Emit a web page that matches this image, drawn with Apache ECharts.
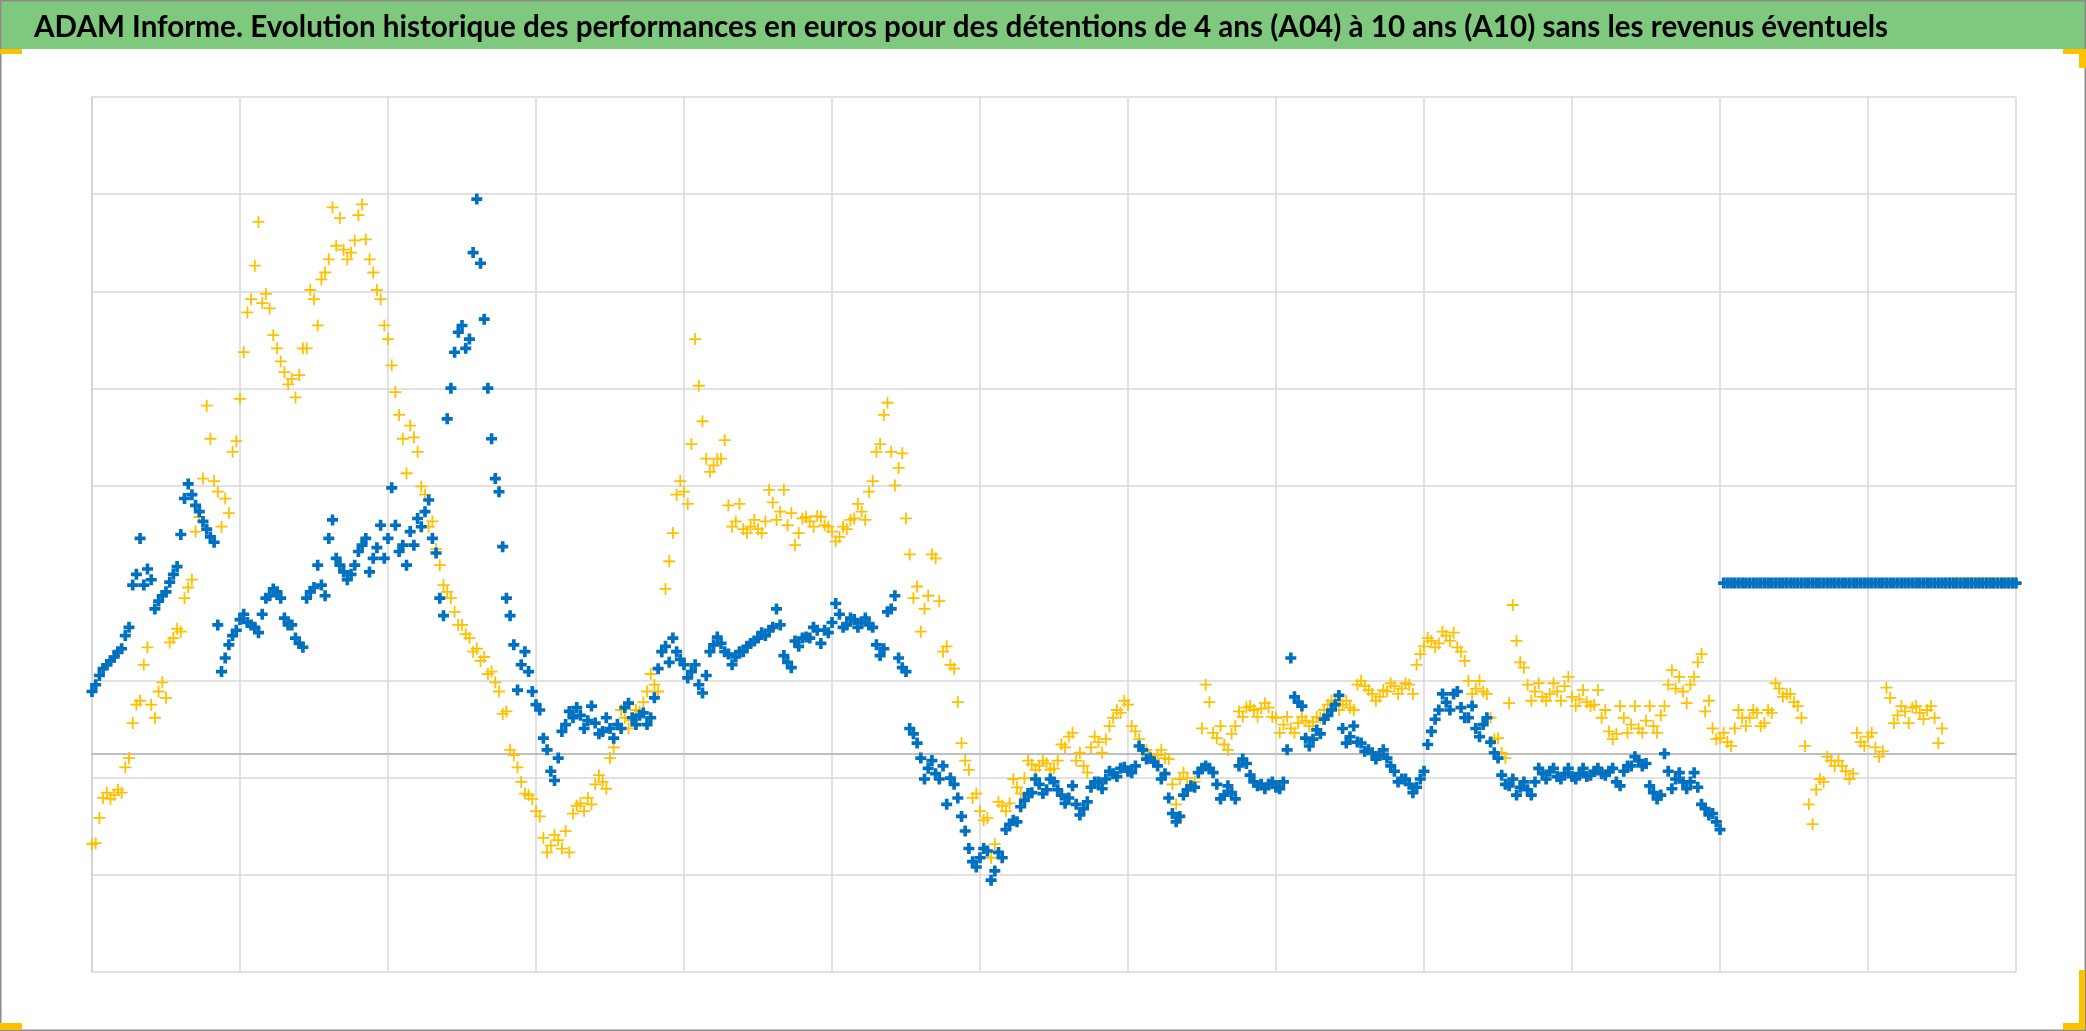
<!DOCTYPE html>
<html>
<head>
<meta charset="utf-8">
<script src="https://cdn.jsdelivr.net/npm/echarts/dist/echarts.min.js"></script>
<style>
html,body{margin:0;padding:0;background:#ffffff;}
#chart{width:2086px;height:1031px;}
</style>
</head>
<body>
<div id="chart"></div>
<script>
// ---------- DATA ----------
const titleText = 'ADAM Informe. Evolution historique des performances en euros pour des détentions de 4 ans (A04) à 10 ans (A10) sans les revenus éventuels';
const seriesNames = ['A04', 'A10'];
// observation time axis (equally spaced observations; "Mid" arrays are the observations half a step later)
const timeStart = 0;
const timeStep = 0.05;
const xRange = [0, 13, 1];          // min, max, interval
const yRange = [-45, 135, 20];      // min, max, interval (ticks counted from min)

// A04 (yellow) performance values, %
const perfA04 = [
-18.7,-13.3,-8.1,-8.6,-8.1,-1.0,10.0,18.2,10.0,12.7,
11.4,23.7,25.0,34.1,45.6,56.5,64.7,53.8,52.4,62.0,
72.9,90.7,100.3,92.6,91.5,83.3,78.4,77.0,77.8,83.3,
93.4,97.5,101.6,104.4,103.6,103.0,110.7,105.7,98.9,93.4,
85.2,74.3,64.7,67.4,62.0,53.2,47.7,38.7,33.2,29.1,
26.4,23.7,21.5,19.8,16.8,12.7,8.6,-0.4,-5.9,-8.6,
-11.9,-17.4,-19.0,-17.9,-16.0,-12.4,-10.3,-9.2,-6.4,-5.9,
-1.0,5.9,7.3,6.7,8.6,12.7,14.1,20.9,39.5,53.2,
53.8,63.6,75.6,60.6,59.2,60.6,51.0,47.7,46.1,46.6,
46.1,47.7,51.6,49.7,46.9,42.8,48.3,47.7,48.8,46.9,
45.6,44.5,46.1,48.3,49.7,53.8,62.0,69.6,62.0,58.7,
48.3,31.9,25.0,32.4,40.1,20.9,18.2,10.5,-1.5,-9.2,
-11.9,-13.3,-18.7,-10.8,-10.3,-7.0,-5.1,-2.3,-2.6,-2.1,
-3.1,1.8,3.4,-1.5,-2.6,1.2,2.3,2.9,7.3,8.3,
10.0,4.5,0.4,-0.4,-0.4,-1.0,-6.4,-5.3,-5.1,-5.9,
5.1,10.5,3.1,1.8,4.0,8.6,9.4,8.9,9.2,9.4,
7.3,5.9,5.1,6.2,6.7,6.4,7.3,10.0,10.5,10.0,
9.4,14.1,13.8,12.2,11.6,12.7,13.8,13.3,14.1,18.2,
22.0,23.1,22.6,24.2,24.8,20.9,14.9,13.3,12.7,7.3,
3.1,-1.0,30.5,18.7,14.1,12.7,11.6,12.2,12.7,13.8,
11.6,11.1,10.5,10.0,7.3,4.5,4.0,7.3,5.9,5.1,
6.7,5.6,7.8,14.1,13.3,12.7,14.1,18.7,8.6,5.1,
3.1,2.3,5.1,7.3,7.3,8.3,6.2,8.3,13.3,12.2,
10.5,7.3,-10.5,-7.5,-5.9,-1.5,-1.5,-3.7,-4.2,2.3,
3.4,1.2,0.4,11.4,7.8,8.6,9.4,8.3,8.9,7.3,
5.1,
35,35,35,35,35,35,35,35,35,35
];
const perfA04Mid = [
-18.5,-9.2,-9.4,-7.5,-2.9,6.2,10.8,21.8,7.3,14.6,
22.8,25.6,31.9,35.7,48.6,71.5,56.0,46.6,49.4,64.2,
82.5,93.4,109.3,94.5,86.0,80.6,75.9,73.2,83.3,95.3,
88.0,98.9,112.3,110.1,101.6,105.5,112.9,101.6,95.3,88.0,
79.8,69.6,57.6,65.0,54.9,46.6,42.0,34.6,31.9,26.4,
24.5,20.9,19.0,16.3,14.6,8.1,0.7,-2.9,-8.3,-9.4,
-13.0,-20.4,-16.8,-19.6,-20.4,-10.8,-11.9,-10.5,-4.5,-7.3,
1.2,8.9,5.1,8.9,10.5,16.3,12.7,33.8,45.3,56.0,
51.3,85.2,68.3,57.9,60.6,64.4,46.6,51.3,45.3,48.0,
45.3,54.2,48.0,54.2,49.4,45.3,48.6,46.6,48.6,46.6,
43.6,46.6,48.0,51.3,48.0,56.0,63.6,72.1,55.1,61.7,
40.9,34.3,29.7,40.9,31.3,22.0,17.4,2.1,-3.4,-8.3,
-13.8,-21.5,-10.0,-11.9,-5.3,-8.3,-1.5,-3.4,-1.5,-3.4,
-1.5,1.2,4.2,0.1,-4.0,3.4,0.1,5.6,8.9,10.8,
5.6,2.9,0.7,-1.2,0.7,-1.2,-10.5,-4.0,-6.7,-4.0,
14.1,4.2,5.6,0.7,5.6,7.5,9.7,7.5,10.3,7.5,
4.2,7.5,4.2,7.5,5.6,7.5,8.9,10.8,8.9,10.8,
8.9,14.9,13.0,10.8,13.0,14.4,12.2,14.4,12.2,20.4,
23.7,21.8,25.0,23.1,21.8,19.0,12.2,14.9,12.2,2.9,
0.1,10.3,23.1,17.6,10.8,14.4,10.8,14.4,10.8,15.7,
9.7,13.0,9.7,13.0,8.9,2.9,9.7,4.2,9.7,4.2,
9.7,4.2,9.7,17.1,15.7,10.3,15.7,20.4,10.8,2.9,
4.2,1.5,8.9,5.6,8.9,5.6,8.9,14.4,11.6,12.2,
9.7,1.5,-14.6,-5.3,-0.7,-2.6,-2.6,-5.3,4.2,1.5,
4.2,-0.7,13.5,6.2,9.7,6.2,9.7,7.0,9.7,2.1,
35,35,35,35,35,35,35,35,35,35
];

// A10 (blue) performance values, %
const perfA10 = [
12.7,16.0,18.2,19.8,21.5,25.9,36.8,34.6,35.7,31.3,
33.2,36.8,45.0,55.4,51.0,47.7,44.5,26.4,19.6,24.2,
27.5,26.9,25.9,28.6,32.4,33.2,27.8,26.4,22.6,31.9,
34.1,34.6,44.2,40.1,37.3,36.8,41.5,44.2,40.1,46.9,
44.2,46.9,42.8,45.6,48.3,49.7,44.2,31.9,68.8,82.5,
88.0,85.2,114.0,89.3,64.7,53.8,31.9,22.3,18.2,16.8,
10.0,3.1,-3.7,-1.0,5.9,7.3,7.8,6.7,6.2,4.5,
5.1,5.9,9.4,7.3,7.8,5.9,11.4,20.9,18.7,20.9,
18.2,16.8,14.1,16.0,22.3,22.6,20.4,19.8,20.9,22.6,
23.7,24.2,25.9,26.4,18.7,23.1,23.7,23.7,25.3,25.3,
26.9,28.6,26.4,27.5,26.9,26.4,22.3,21.5,29.7,19.6,
16.8,4.0,-1.0,-3.1,-4.2,-2.6,-5.1,-9.2,-16.0,-22.3,
-21.5,-20.1,-24.2,-21.5,-14.6,-14.1,-9.7,-8.1,-6.4,-7.5,
-5.9,-8.6,-9.2,-10.5,-11.4,-7.0,-5.9,-5.3,-4.2,-3.1,
-3.7,-2.6,0.7,-1.0,-2.6,-4.2,-12.4,-13.0,-7.5,-7.0,
-3.1,-3.1,-6.4,-8.6,-8.1,-2.6,-2.1,-5.9,-6.4,-6.4,
-7.0,-5.9,19.6,10.5,3.1,2.9,4.0,7.8,10.0,5.1,
3.4,2.3,0.4,0.1,-0.4,-1.0,-3.7,-5.3,-6.4,-7.0,
-3.7,4.5,8.9,10.5,12.2,9.4,7.3,5.1,5.9,2.3,
-1.0,-6.4,-5.3,-7.0,-7.5,-5.9,-4.2,-3.7,-4.8,-4.2,
-4.8,-4.2,-4.8,-3.7,-4.2,-3.7,-5.9,-3.7,-2.6,-1.5,
-2.1,-8.1,-8.6,-3.7,-5.3,-5.9,-5.9,-7.0,-11.4,-12.4,
-15.7,
35,35,35,35,35,35,35,35,35,35,
35,35,35,35,35,35,35,35,35,35,
35,35,35,35,35,35,35,35,35,35,
35,35,35,35,35,35,35,35,35,35
];
const perfA10Mid = [
14.1,17.4,19.0,20.9,24.2,34.6,44.2,37.9,29.7,32.4,
35.2,38.4,52.4,53.2,49.7,46.1,43.4,16.8,22.3,25.3,
28.6,26.4,24.8,31.9,33.8,31.9,26.4,23.7,21.8,33.2,
38.7,32.4,48.0,38.7,35.7,38.7,42.8,37.3,42.3,40.1,
54.6,41.5,38.7,42.8,46.6,52.1,41.2,28.3,75.1,86.6,
83.3,103.0,100.8,75.1,56.5,42.5,28.3,13.0,20.9,12.7,
8.9,0.7,-5.6,4.5,8.6,9.4,5.1,9.7,4.0,7.3,
3.1,5.1,10.3,5.9,8.3,7.3,17.4,22.0,23.7,19.3,
15.5,18.2,12.4,20.9,23.9,20.9,18.2,20.9,22.0,23.1,
24.8,25.3,29.7,20.1,17.6,22.0,23.9,25.9,22.6,24.8,
30.8,25.9,27.8,25.9,27.8,25.9,20.1,29.1,32.4,17.6,
5.1,2.1,-5.3,-1.5,-5.3,-10.5,-6.4,-13.0,-19.6,-23.4,
-19.6,-26.1,-20.4,-15.7,-13.8,-11.0,-8.3,-5.3,-8.3,-5.3,
-7.5,-10.3,-6.7,-12.7,-10.0,-5.9,-7.3,-3.7,-4.8,-2.9,
-4.0,1.5,-1.2,-1.8,-5.3,-9.2,-14.1,-8.6,-6.7,-4.0,
-2.6,-4.0,-9.4,-6.7,-9.4,-1.2,-4.5,-6.7,-7.3,-5.9,
-7.3,0.7,11.6,9.7,1.5,4.8,7.0,8.9,11.9,2.1,
5.6,2.1,0.7,-1.2,0.7,-2.6,-5.9,-5.3,-8.1,-5.3,
1.8,7.0,12.2,8.9,12.7,7.3,9.7,3.4,7.3,0.1,
-4.5,-6.7,-8.6,-5.9,-8.6,-3.1,-5.3,-3.1,-5.3,-3.1,
-5.3,-3.1,-4.5,-3.1,-4.5,-3.1,-6.7,-2.6,-0.7,-2.6,
-6.7,-9.4,-0.1,-7.3,-4.0,-7.3,-4.0,-10.5,-12.7,-14.1,
35,35,35,35,35,35,35,35,35,35,
35,35,35,35,35,35,35,35,35,35,
35,35,35,35,35,35,35,35,35,35,
35,35,35,35,35,35,35,35,35,35
];

// ---------- CHART ----------
const toPoints = (arr, offset) => arr.map((v, i) => [timeStart + (i + offset) * timeStep, v]);

const gridCol = '#D9D9D9';
// one colour per horizontal split line (-45 ... 135); the line at 35 is not drawn in the reference
const ySplitColors = [];
for (let v = yRange[0]; v <= yRange[1]; v += yRange[2]) ySplitColors.push(v === 35 ? '#FFFFFF' : gridCol);

const plusBold = 'path://M3,0H6V3H9V6H6V9H3V6H0V3H3Z';
const plusThin = 'path://M4.25,0H5.75V4.25H10V5.75H5.75V10H4.25V5.75H0V4.25H4.25Z';

const chart = echarts.init(document.getElementById('chart'), null, {renderer: 'canvas'});
chart.setOption({
  animation: false,
  backgroundColor: '#ffffff',
  grid: {left: 92, top: 97, width: 1924, height: 875, containLabel: false},
  xAxis: {
    type: 'value', min: xRange[0], max: xRange[1], interval: xRange[2],
    axisLine: {show: true, onZero: true, lineStyle: {color: '#BFBFBF', width: 2}},
    axisTick: {show: false}, axisLabel: {show: false},
    splitLine: {show: true, lineStyle: {color: gridCol, width: 1.5}}
  },
  yAxis: {
    type: 'value', min: yRange[0], max: yRange[1], interval: yRange[2],
    axisLine: {show: true, onZero: false, lineStyle: {color: '#D0D0D0', width: 1.5}},
    axisTick: {show: false}, axisLabel: {show: false},
    splitLine: {show: true, lineStyle: {color: ySplitColors, width: 1.5}}
  },
  series: [
    {name: seriesNames[0], type: 'scatter',
     data: toPoints(perfA04, 0).concat(toPoints(perfA04Mid, 0.5)),
     symbol: plusThin, symbolSize: 12,
     itemStyle: {color: '#FFC000', opacity: 1}, silent: true, z: 2},
    {name: seriesNames[1], type: 'scatter',
     data: toPoints(perfA10, 0).concat(toPoints(perfA10Mid, 0.5)),
     symbol: plusBold, symbolSize: 11,
     itemStyle: {color: '#0070C0', opacity: 1}, silent: true, z: 3}
  ],
  graphic: [
    {type: 'rect', silent: true, z: 0, shape: {x: 0, y: 0, width: 2086, height: 49}, style: {fill: '#7EC97E'}},
    {type: 'text', silent: true, z: 5, x: 34, y: 27,
     style: {text: titleText, font: 'bold 29.6px Lato', fill: '#000000', verticalAlign: 'middle', align: 'left'}},
    {type: 'rect', silent: true, z: 4, shape: {x: 0.75, y: 0.75, width: 2084.5, height: 1029.5},
     style: {fill: null, stroke: '#8C8C8C', lineWidth: 1.5}},
    {type: 'rect', silent: true, z: 6, shape: {x: 0, y: 49, width: 22, height: 5}, style: {fill: '#FFC000'}},
    {type: 'rect', silent: true, z: 6, shape: {x: 2063, y: 49, width: 23, height: 5}, style: {fill: '#FFC000'}},
    {type: 'rect', silent: true, z: 6, shape: {x: 2079, y: 49, width: 7, height: 19}, style: {fill: '#FFC000'}},
    {type: 'rect', silent: true, z: 6, shape: {x: 0, y: 1023, width: 22, height: 7}, style: {fill: '#FFC000'}},
    {type: 'rect', silent: true, z: 6, shape: {x: 2079, y: 970, width: 6, height: 60}, style: {fill: '#FFC000'}},
    {type: 'rect', silent: true, z: 6, shape: {x: 2063, y: 1023, width: 22, height: 7}, style: {fill: '#FFC000'}}
  ]
});
</script>
</body>
</html>
